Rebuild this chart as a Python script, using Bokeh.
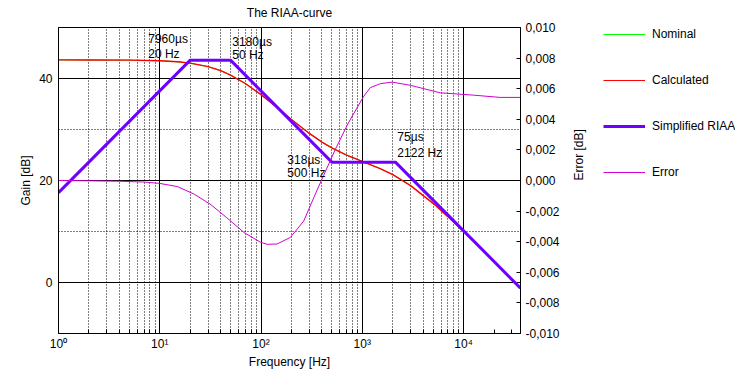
import math
import sys
from bokeh.plotting import figure
from bokeh.layouts import row
from bokeh.models import (Range1d, LinearAxis, FixedTicker, Grid, Legend, LegendItem,
                          CustomJSTickFormatter)
from bokeh.core.properties import value
from bokeh.embed import file_html
from bokeh.resources import INLINE

FONT = "Liberation Sans"

# ---- data ----
curve_freq = [1, 2, 5, 10, 15, 20, 30, 40, 50, 70, 100, 150, 200, 300, 400, 500, 700,
              1000, 1500, 2000, 3000, 5000, 7000, 10000, 15000, 20000, 30000, 36500]
nominal_db = [43.65, 43.64, 43.61, 43.48, 43.28, 43.01, 42.33, 41.53, 40.68, 39.02, 36.83,
              34.01, 31.96, 29.23, 27.52, 26.39, 24.98, 23.74, 22.34, 21.16, 18.99, 15.52,
              12.92, 10.00, 6.59, 4.11, 0.63, -1.10]
calculated_db = [43.65, 43.64, 43.61, 43.48, 43.28, 43.01, 42.33, 41.53, 40.68, 39.02, 36.83,
                 34.01, 31.96, 29.23, 27.52, 26.39, 24.98, 23.74, 22.34, 21.16, 18.99, 15.52,
                 12.92, 10.00, 6.59, 4.11, 0.63, -1.10]

simple_freq = [1, 20, 50, 500, 2122, 36500]
simple_db = [17.6, 43.6, 43.6, 23.6, 23.6, -1.1]

error_freq = [1, 2, 4, 7, 10, 15, 22, 32, 46, 68, 99, 115, 144, 195, 264, 358, 416, 543,
              720, 1025, 1200, 1510, 1970, 2990, 5900, 12500, 23000, 36500]
error_db = [0.0, -0.00002, -0.00005, -0.0001, -0.00019, -0.0004, -0.0009, -0.00158,
            -0.00244, -0.0034, -0.00404, -0.00417, -0.00415, -0.00372, -0.00265, -0.00062,
            0.00034, 0.00205, 0.0037, 0.00547, 0.00607, 0.00633, 0.00643, 0.00622,
            0.00573, 0.00558, 0.00543, 0.00543]

ann_freq = [7.7, 7.7, 52, 52, 182, 182, 2220, 2220]
ann_db = [47.7, 44.8, 47.1, 44.6, 24.0, 21.5, 28.5, 25.4]
ann_text = ["7960µs", "20 Hz", "3180µs", "50 Hz", "318µs", "500 Hz", "75µs", "2122 Hz"]

x_major = [1, 10, 100, 1000, 10000]
x_tick_labels = ["10⁰", "10¹", "10²", "10³", "10⁴"]
x_minor = [m * d for d in [1, 10, 100, 1000] for m in range(2, 10)]
x_minor_ticks = x_minor + [20000, 30000]
y_major = [0, 20, 40]
y_dotted = [10, 30]
err_ticks = [-0.010, -0.008, -0.006, -0.004, -0.002, 0.0, 0.002, 0.004, 0.006, 0.008, 0.010]

series_names = ["Nominal", "Calculated", "Simplified RIAA", "Error"]
series_colors = ["#00ff00", "#ff0000", "#6f00ff", "#d000d0"]
series_widths = [1, 1.4, 3, 1]

# ---- main figure ----
p = figure(width=600, height=371, x_axis_type="log", x_range=Range1d(1, 36500),
           y_range=Range1d(-10, 50), output_backend="svg", toolbar_location=None,
           title="The RIAA-curve", min_border_left=58, min_border_right=80,
           min_border_top=26, min_border_bottom=37)
p.extra_y_ranges = {"err": Range1d(-0.010, 0.010)}
p.background_fill_color = "white"
p.border_fill_color = "white"
p.outline_line_color = "black"
p.outline_line_alpha = 1.0

p.title.text_font = FONT
p.title.text_font_size = "12px"
p.title.text_font_style = "normal"
p.title.text_color = "black"
p.title.align = "center"
p.title.vertical_align = "top"
p.title.standoff = 11

# grids
p.xgrid.ticker = FixedTicker(ticks=x_major)
p.xgrid.grid_line_color = "black"
p.xgrid.grid_line_alpha = 1.0
p.ygrid.ticker = FixedTicker(ticks=y_major)
p.ygrid.grid_line_color = "black"
p.ygrid.grid_line_alpha = 1.0
p.add_layout(Grid(dimension=0, ticker=FixedTicker(ticks=x_minor), grid_line_color="black",
                  grid_line_dash="1 2"))
p.add_layout(Grid(dimension=1, ticker=FixedTicker(ticks=y_dotted), grid_line_color="black",
                  grid_line_dash="1 2"))

# axes
xa = p.xaxis[0]
xa.ticker = FixedTicker(ticks=x_major, minor_ticks=x_minor_ticks)
xa.major_label_overrides = {t: l for t, l in zip(x_major, x_tick_labels)}
xa.major_tick_in = 0
xa.major_tick_out = 0
xa.minor_tick_in = 4
xa.minor_tick_out = 0
xa.axis_label = "Frequency [Hz]"

ya = p.yaxis[0]
ya.ticker = FixedTicker(ticks=y_major)
ya.major_tick_in = 0
ya.major_tick_out = 0
ya.minor_tick_in = 0
ya.minor_tick_out = 0
ya.axis_label = "Gain [dB]"

ea = LinearAxis(y_range_name="err", ticker=FixedTicker(ticks=err_ticks),
                formatter=CustomJSTickFormatter(code="""
                    const s = Math.abs(tick).toFixed(3).replace('.', ',');
                    return (tick < -1e-9 ? '-' : '') + s;"""),
                axis_label="Error [dB]", major_tick_in=4, major_tick_out=0,
                minor_tick_in=0, minor_tick_out=0)
p.add_layout(ea, "right")

for ax in [xa, ya, ea]:
    ax.axis_line_color = "black"
    ax.major_tick_line_color = "black"
    ax.minor_tick_line_color = "black"
    ax.major_label_text_font = FONT
    ax.major_label_text_font_size = "12px"
    ax.major_label_text_color = "black"
    ax.axis_label_text_font = FONT
    ax.axis_label_text_font_size = "12px"
    ax.axis_label_text_font_style = "normal"
    ax.axis_label_text_color = "black"

xa.major_label_standoff = 3
xa.axis_label_standoff = 1
ya.major_label_standoff = 6
ya.axis_label_standoff = 3
ea.major_label_standoff = 5
ea.axis_label_standoff = 16
if "axis_label_orientation" in ea.properties():
    ea.axis_label_orientation = math.pi / 2
else:
    print("no axis_label_orientation", file=sys.stderr)

# lines
r_nom = p.line(curve_freq, nominal_db, line_color=series_colors[0], line_width=series_widths[0])
r_calc = p.line(curve_freq, calculated_db, line_color=series_colors[1], line_width=series_widths[1])
r_simp = p.line(simple_freq, simple_db, line_color=series_colors[2], line_width=series_widths[2])
r_err = p.line(error_freq, error_db, line_color=series_colors[3], line_width=series_widths[3],
               y_range_name="err")

p.text(x=ann_freq, y=ann_db, text=ann_text, text_font=value(FONT), text_font_size="12px",
       text_align="left", text_baseline="middle", text_color="black")

# ---- legend panel (separate figure to the right; its series lie outside its ranges) ----
q = figure(width=135, height=371, output_backend="svg", toolbar_location=None,
           x_axis_location=None, y_axis_location=None, min_border=0,
           x_range=Range1d(-3, -2), y_range=Range1d(-30, -20))
q.grid.visible = False
q.outline_line_color = None
q.background_fill_color = "white"
q.border_fill_color = "white"
leg_data = [(curve_freq, nominal_db), (curve_freq, calculated_db),
            (simple_freq, simple_db), (error_freq, error_db)]
leg_renderers = [q.line(xs, ys, line_color=c, line_width=(3 if w == 3 else 1))
                 for (xs, ys), c, w in zip(leg_data, series_colors, series_widths)]
legend = Legend(items=[LegendItem(label=n, renderers=[r]) for n, r in
                       zip(series_names, leg_renderers)],
                location=(3, 151), orientation="vertical", spacing=26,
                glyph_width=42, glyph_height=20, label_height=20, label_standoff=7,
                padding=0, margin=0, border_line_color=None, background_fill_alpha=0,
                label_text_font=FONT, label_text_font_size="12px", label_text_color="black",
                level="overlay")
q.add_layout(legend, "center")

layout = row(p, q, spacing=0)
open("out.html", "w").write(file_html(layout, INLINE))
